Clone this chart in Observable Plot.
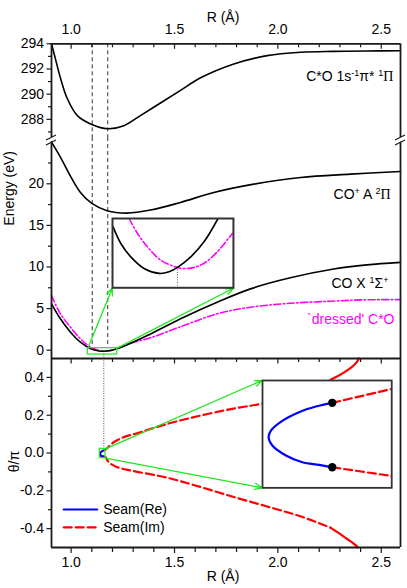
<!DOCTYPE html>
<html><head><meta charset="utf-8">
<script src="https://cdn.jsdelivr.net/npm/d3@7"></script>
<script src="https://cdn.jsdelivr.net/npm/@observablehq/plot@0.6"></script>
<style>
body{margin:0;background:#fff;}
#chart{position:relative;width:407px;height:588px;overflow:hidden;background:#fff;}
#chart svg{position:absolute;left:0;}
</style></head><body><div id="chart"></div>
<script>
// ---------- data ----------
// shared R axis
const xDomain = [0.905, 2.593];
const xMajor = [1.0, 1.5, 2.0, 2.5];
const xMinor = [1.1, 1.2, 1.3, 1.4, 1.6, 1.7, 1.8, 1.9, 2.1, 2.2, 2.3, 2.4];

// top panel: C*O 1s^-1 pi* 1Pi
const eTopMajor = [288, 290, 292, 294];
const eTopMinor = [287, 289, 291, 293];
const rCoreExc = [0.905,0.924,0.948,0.98,1.03,1.10,1.177,1.255,1.335,1.432,1.529,1.626,1.787,1.948,2.11,2.27,2.43,2.593];
const eCoreExc = [294.0,292.8,291.3,289.7,288.3,287.6,287.26,287.5,288.3,289.3,290.3,291.3,292.4,293.06,293.33,293.4,293.43,293.45];

// middle panel
const eMidMajor = [0, 5, 10, 15, 20];
const eMidMinor = [2.5, 7.5, 12.5, 17.5, 22.5];
const rIonA = [0.905,0.948,1.0,1.045,1.10,1.174,1.27,1.384,1.529,1.69,1.884,2.11,2.35,2.593];
const eIonA = [25,23.2,20.76,18.96,17.64,16.76,16.48,16.84,17.76,18.96,19.96,20.76,21.16,21.48];
const rGround = [0.905,0.948,0.997,1.045,1.094,1.142,1.19,1.255,1.384,1.545,1.706,1.867,2.06,2.27,2.43,2.593];
const eGround = [5.57,3.77,2.16,0.96,0.17,-0.12,-0.04,0.48,1.95,3.96,5.76,7.37,8.7,9.75,10.25,10.56];
const rDressed = [0.905,0.948,0.997,1.045,1.094,1.158,1.223,1.279,1.384,1.545,1.706,1.867,2.06,2.255,2.416,2.593];
const eDressed = [6.56,4.37,2.76,1.37,0.36,-0.12,0.17,0.77,1.5,2.96,4.37,5.16,5.64,5.88,6.05,6.08];

// inset 1 (zoom on the minimum)
const rGroundZoom = [1.0813,1.0904,1.1021,1.1177,1.1354,1.1471,1.1570,1.1726,1.1882,1.2047];
const eGroundZoom = [0.148,-0.034,-0.181,-0.308,-0.362,-0.345,-0.297,-0.181,-0.016,0.240];
const rDressedZoom = [1.1001,1.1100,1.1217,1.1374,1.1570,1.1687,1.1844,1.2000,1.2216];
const eDressedZoom = [0.240,0.076,-0.071,-0.217,-0.297,-0.308,-0.271,-0.162,0.076];
const rCrossing = [1.157];
const eCrossing = [-0.297];
const rCrossMain = [1.158];

// bottom panel: seams
const thMajor = [-0.4, -0.2, 0.0, 0.2, 0.4];
const thMinor = [-0.3, -0.1, 0.1, 0.3];
const rSeamRe = [1.1535,1.1500,1.1464,1.1429,1.1404,1.1399,1.1407,1.1436,1.1471,1.1507,1.1535];
const thSeamRe = [0.0117,0.0100,0.0074,0.0035,-0.0011,-0.0042,-0.0080,-0.0126,-0.0157,-0.0169,-0.0180];
const rSeamImUp = [1.1535,1.166,1.206,1.255,1.311,1.465,1.626,1.785,1.924,2.12,2.295];
const thSeamImUp = [0.0117,0.018,0.057,0.084,0.102,0.154,0.198,0.235,0.262,0.32,0.41];
const rSeamImUpEnd = [2.295,2.335,2.366,2.384,2.391];
const thSeamImUpEnd = [0.41,0.437,0.463,0.485,0.5];
const rSeamImLo = [1.1535,1.166,1.182,1.223,1.29,1.465,1.626,1.787,1.948,2.109,2.206,2.254];
const thSeamImLo = [-0.018,-0.022,-0.049,-0.075,-0.093,-0.131,-0.180,-0.233,-0.283,-0.335,-0.374,-0.395];
const rSeamImLoEnd = [2.254,2.30,2.335,2.362,2.378,2.386];
const thSeamImLoEnd = [-0.395,-0.428,-0.455,-0.475,-0.49,-0.5];
const rExceptional = [1.1535, 1.1535];
const thExceptional = [0.0117, -0.018];

// labels (^{...} = superscript)
const labelCoreExc = "C*O 1s^{-1}π* ^{1}Π";
const labelIonA = "CO^{+} A ^{2}Π";
const labelGround = "CO X ^{1}Σ^{+}";
const labelDressed = "`dressed' C*O";
const legendLabels = ["Seam(Re)", "Seam(Im)"];

// ---------- layout / style ----------
const W = 407, mL = 51, mR = 7;
const FONT = "'Liberation Sans', Arial, sans-serif";
const AX = "#1a1a1a", GREEN = "#1ee61e", MAG = "#ff00ff", RED = "#ff0000", BLUE = "#0000ff";
const TICKFS = 14, LABFS = 14;
const pts = (xs, ys) => xs.map((x, i) => ({x, y: ys[i]}));
const fmt1 = d => d.toFixed(1);
const root = document.getElementById("chart");
const baseStyle = {background: "transparent", overflow: "visible", fontFamily: FONT, fontSize: "13px", color: "#000"};
const dashedV = {stroke: "#333", strokeWidth: 1, strokeDasharray: "4,3"};
const dottedV = {stroke: "#555", strokeWidth: 1, strokeDasharray: "1,1.5"};
const frameLine = {stroke: AX, strokeWidth: 1.8};
function place(svg, top, left = 0) {
  svg.style.position = "absolute"; svg.style.top = top + "px"; svg.style.left = left + "px";
  root.appendChild(svg);
}
function leftAxis(major, minor, fmt) {
  return [
    Plot.axisY(minor, {anchor: "left", tickSize: 3, tickFormat: () => "", stroke: AX, strokeWidth: 1.2, label: null}),
    Plot.axisY(major, {anchor: "left", tickSize: 4.5, tickFormat: () => "", stroke: AX, strokeWidth: 1.2, label: null}),
    Plot.axisY(major, {anchor: "left", tickSize: 0, tickPadding: 7.5, tickFormat: fmt, fontSize: TICKFS, label: null})
  ];
}
// turn ^{..} markup into real superscript tspans
function supify(svg) {
  d3.select(svg).selectAll("text").each(function() {
    const t = this.textContent;
    if (!t.includes("^{") && !t.includes("Π")) return;
    const el = d3.select(this);
    el.text(null);
    const re = /\^\{([^}]*)\}/g;
    let last = 0, m, shifted = false;
    const addNormal = (s) => {
      for (const part of s.split(/(Π)/)) {
        if (!part) continue;
        const ts = el.append("tspan").text(part);
        if (part === "Π") ts.attr("font-family", "'Liberation Serif', serif");
        if (shifted) { ts.attr("dy", 5); shifted = false; }
      }
    };
    while ((m = re.exec(t))) {
      if (m.index > last) addNormal(t.slice(last, m.index));
      const ts = el.append("tspan").attr("font-size", 9).text(m[1]);
      ts.attr("dy", shifted ? 0 : -5);
      shifted = true;
      last = re.lastIndex;
    }
    if (last < t.length) addNormal(t.slice(last));
  });
}

// ---------- top panel ----------
const topY = [286.56, 294];
const topSvg = Plot.plot({
  width: W, height: 140, marginTop: 43.3, marginBottom: 3, marginLeft: mL, marginRight: mR,
  style: baseStyle,
  x: {domain: xDomain, label: null, axis: null}, y: {domain: topY, label: null, axis: null},
  marks: [
    Plot.ruleX([1.102, 1.177], {y1: 294, y2: topY[0], ...dashedV}),
    Plot.line(pts(rCoreExc, eCoreExc), {x: "x", y: "y", curve: "catmull-rom", stroke: "#000", strokeWidth: 1.6}),
    Plot.ruleY([294], frameLine),
    Plot.ruleX(xDomain, frameLine),
    Plot.axisX(xMinor, {anchor: "top", tickSize: -3, tickFormat: () => "", stroke: AX, strokeWidth: 1.2, label: null}),
    Plot.axisX(xMajor, {anchor: "top", tickSize: -4.5, tickFormat: () => "", stroke: AX, strokeWidth: 1.2, label: null}),
    Plot.axisX(xMajor, {anchor: "top", tickSize: 0, tickPadding: 10, tickFormat: fmt1, fontSize: TICKFS, label: null}),
    ...leftAxis(eTopMajor, eTopMinor, d => String(d)),
    Plot.text(["R (Å)"], {frameAnchor: "top", dy: -32, dx: -3, fontSize: LABFS}),
    Plot.text([labelCoreExc], {x: 2.559, y: 291.4, textAnchor: "end", fontSize: LABFS})
  ]
});
supify(topSvg);
place(topSvg, 0);

// ---------- middle panel ----------
const midY = [-1, 25];
const midTop = 137;
const box1 = {x1: 1.0806, x2: 1.2228, y1: -0.52, y2: 0.24};
const inset1 = {r: [1.199, 1.784], e: [7.44, 15.77]};
const midSvg = Plot.plot({
  width: W, height: 221, marginTop: 4.7, marginBottom: 0, marginLeft: mL, marginRight: mR,
  style: baseStyle,
  x: {domain: xDomain, label: null, axis: null}, y: {domain: midY, label: null, axis: null},
  marks: [
    Plot.ruleX([1.102, 1.177], {y1: 25.56, y2: 0.3, ...dashedV}),
    Plot.ruleX(rCrossMain, {y1: -0.1, y2: -1, ...dottedV}),
    Plot.line(pts(rIonA, eIonA), {x: "x", y: "y", curve: "catmull-rom", stroke: "#000", strokeWidth: 1.6}),
    Plot.line(pts(rDressed, eDressed), {x: "x", y: "y", curve: "catmull-rom", stroke: MAG, strokeWidth: 1.6, strokeDasharray: "7,2.5,1.5,2.5"}),
    Plot.line(pts(rGround, eGround), {x: "x", y: "y", curve: "catmull-rom", stroke: "#000", strokeWidth: 1.6}),
    Plot.rect([box1], {x1: "x1", x2: "x2", y1: "y1", y2: "y2", stroke: GREEN, strokeWidth: 1.2, fill: "none"}),
    Plot.arrow([
      {x1: box1.x1, y1: box1.y2, x2: inset1.r[0], y2: inset1.e[0]},
      {x1: box1.x2, y1: box1.y2, x2: inset1.r[1], y2: inset1.e[0]}
    ], {x1: "x1", y1: "y1", x2: "x2", y2: "y2", stroke: GREEN, strokeWidth: 1.3, headLength: 9, headAngle: 45}),
    Plot.ruleX(xDomain, frameLine),
    ...leftAxis(eMidMajor, eMidMinor, d => String(d)),
    Plot.text([labelIonA], {x: 2.545, y: 18.77, textAnchor: "end", fontSize: LABFS}),
    Plot.text([labelGround], {x: 2.535, y: 8.0, textAnchor: "end", fontSize: LABFS}),
    Plot.text([labelDressed], {x: 2.564, y: 3.68, textAnchor: "end", fontSize: LABFS, fill: MAG}),
    Plot.text(["Energy (eV)"], {frameAnchor: "left", textAnchor: "middle", rotate: -90, dx: -42, dy: -62, fontSize: LABFS})
  ]
});
supify(midSvg);
place(midSvg, midTop);

// ---------- bottom panel ----------
const botTop = 358;
const box2 = {x1: 1.1386, x2: 1.1662, y1: -0.0275, y2: 0.022};
const inset2 = {r: [1.924, 2.549], th: [-0.184, 0.384]};
const redDash = {x: "x", y: "y", curve: "catmull-rom", stroke: RED, strokeWidth: 2.2, strokeDasharray: "8,4"};
const redSolid = {x: "x", y: "y", curve: "catmull-rom", stroke: RED, strokeWidth: 2.2};
const botSvg = Plot.plot({
  width: W, height: 230, marginTop: 0, marginBottom: 41, marginLeft: mL, marginRight: mR,
  style: baseStyle,
  x: {domain: xDomain, label: null, axis: null}, y: {domain: [-0.5, 0.5], label: null, axis: null},
  marks: [
    Plot.ruleX(rCrossMain, {y1: 0.5, y2: box2.y2, ...dottedV}),
    Plot.line(pts(rSeamImUp, thSeamImUp), redDash),
    Plot.line(pts(rSeamImUpEnd, thSeamImUpEnd), redSolid),
    Plot.line(pts(rSeamImLo, thSeamImLo), redDash),
    Plot.line(pts(rSeamImLoEnd, thSeamImLoEnd), redSolid),
    Plot.line(pts(rSeamRe, thSeamRe), {x: "x", y: "y", curve: "catmull-rom", stroke: BLUE, strokeWidth: 2.2}),
    Plot.rect([box2], {x1: "x1", x2: "x2", y1: "y1", y2: "y2", stroke: GREEN, strokeWidth: 1.2, fill: "none"}),
    Plot.arrow([
      {x1: box2.x2, y1: box2.y2, x2: inset2.r[0], y2: inset2.th[1]},
      {x1: box2.x2, y1: box2.y1, x2: inset2.r[0], y2: inset2.th[0]}
    ], {x1: "x1", y1: "y1", x2: "x2", y2: "y2", stroke: GREEN, strokeWidth: 1.3, headLength: 9, headAngle: 45}),
    Plot.ruleY([0.5, -0.5], frameLine),
    Plot.ruleX(xDomain, frameLine),
    Plot.axisX(xMinor, {anchor: "top", tickSize: -3, tickFormat: () => "", stroke: AX, strokeWidth: 1.2, label: null}),
    Plot.axisX(xMajor, {anchor: "top", tickSize: -4.5, tickFormat: () => "", stroke: AX, strokeWidth: 1.2, label: null}),
    Plot.axisX(xMinor, {anchor: "bottom", tickSize: 5, tickFormat: () => "", stroke: AX, strokeWidth: 1.2, label: null}),
    Plot.axisX(xMajor, {anchor: "bottom", tickSize: 6, tickFormat: () => "", stroke: AX, strokeWidth: 1.2, label: null}),
    Plot.axisX(xMajor, {anchor: "bottom", tickSize: 0, tickPadding: 10, tickFormat: fmt1, fontSize: TICKFS, label: null}),
    ...leftAxis(thMajor, thMinor, fmt1),
    // legend
    Plot.line([{x: 0.964, y: -0.299}, {x: 1.126, y: -0.299}], {x: "x", y: "y", stroke: BLUE, strokeWidth: 2.2}),
    Plot.line([{x: 0.964, y: -0.393}, {x: 1.126, y: -0.393}], {x: "x", y: "y", stroke: RED, strokeWidth: 2.2, strokeDasharray: "8,4"}),
    Plot.text([legendLabels[0]], {x: 1.155, y: -0.299, textAnchor: "start", fontSize: LABFS}),
    Plot.text([legendLabels[1]], {x: 1.155, y: -0.393, textAnchor: "start", fontSize: LABFS}),
    Plot.text(["R (Å)"], {frameAnchor: "bottom", dy: 33, dx: -3, fontSize: LABFS}),
    Plot.text(["θ/π"], {frameAnchor: "left", textAnchor: "middle", rotate: -90, dx: -37, dy: 8.5, fontSize: LABFS})
  ]
});
place(botSvg, botTop);

// ---------- axis breaks ----------
{
  const sx = topSvg.scale("x"), sy = topSvg.scale("y");
  const yb = sy.apply(topY[0]);
  const g = d3.select(topSvg).append("g").attr("stroke", AX).attr("stroke-width", 1.2);
  for (const xv of xDomain) {
    const xp = sx.apply(xv);
    for (const off of [0, 5]) {
      g.append("line").attr("x1", xp - 5).attr("y1", yb + 3 + off).attr("x2", xp + 5).attr("y2", yb - 2 + off);
    }
  }
}

// ---------- inset 1 ----------
{
  const sx = midSvg.scale("x"), sy = midSvg.scale("y");
  const left = sx.apply(inset1.r[0]), right = sx.apply(inset1.r[1]);
  const top = sy.apply(inset1.e[1]), bottom = sy.apply(inset1.e[0]);
  const svg = Plot.plot({
    width: right - left, height: bottom - top, margin: 0,
    style: {background: "white", overflow: "visible"},
    x: {domain: [box1.x1, box1.x2], axis: null}, y: {domain: [box1.y1, box1.y2], axis: null},
    marks: [
      Plot.ruleX(rCrossing, {y1: eCrossing[0], y2: box1.y1, ...dottedV}),
      Plot.line(pts(rDressedZoom, eDressedZoom), {x: "x", y: "y", curve: "catmull-rom", stroke: MAG, strokeWidth: 1.6, strokeDasharray: "7,2.5,1.5,2.5", clip: true}),
      Plot.line(pts(rGroundZoom, eGroundZoom), {x: "x", y: "y", curve: "catmull-rom", stroke: "#000", strokeWidth: 1.6, clip: true}),
      Plot.frame({stroke: "#333", strokeWidth: 2})
    ]
  });
  place(svg, midTop + top, left);
}

// ---------- inset 2 ----------
{
  const sx = botSvg.scale("x"), sy = botSvg.scale("y");
  const left = sx.apply(inset2.r[0]), right = sx.apply(inset2.r[1]);
  const top = sy.apply(inset2.th[1]), bottom = sy.apply(inset2.th[0]);
  const svg = Plot.plot({
    width: right - left, height: bottom - top, margin: 0,
    style: {background: "white", overflow: "visible"},
    x: {domain: [box2.x1, box2.x2], axis: null}, y: {domain: [box2.y1, box2.y2], axis: null},
    marks: [
      Plot.line(pts(rSeamImUp, thSeamImUp), {...redDash, curve: "linear", clip: true}),
      Plot.line(pts(rSeamImLo, thSeamImLo), {...redDash, curve: "linear", clip: true}),
      Plot.line(pts(rSeamRe, thSeamRe), {x: "x", y: "y", curve: "catmull-rom", stroke: BLUE, strokeWidth: 2.2, clip: true}),
      Plot.dot(pts(rExceptional, thExceptional), {x: "x", y: "y", r: 4.2, fill: "#000"}),
      Plot.frame({stroke: "#333", strokeWidth: 1.8})
    ]
  });
  place(svg, botTop + top, left);
}
</script></body></html>
